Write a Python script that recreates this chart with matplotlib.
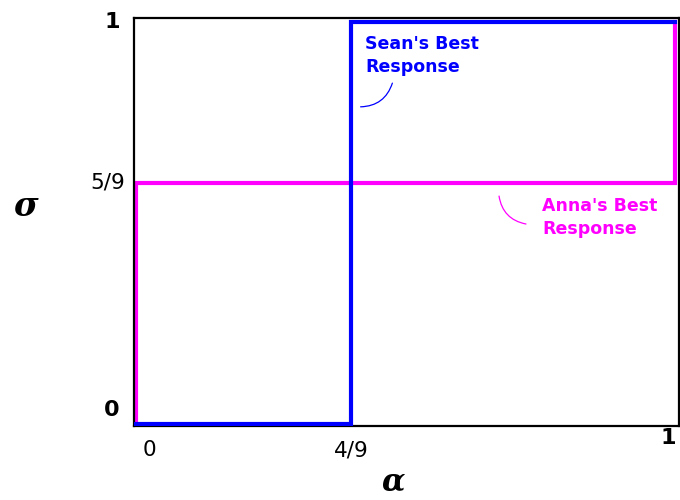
import matplotlib
matplotlib.use("Agg")
import matplotlib.pyplot as plt

# best response paths (positions as drawn in the picture: 4/9 ~ 0.4, 5/9 ~ 0.6)
sean_alpha = [0, 0.4, 0.4, 1]
sean_sigma = [0, 0, 1, 1]
anna_alpha = [0, 0, 1, 1]
anna_sigma = [0, 0.6, 0.6, 1]

BLUE = '#0000ff'
MAGENTA = '#ff00ff'

fig = plt.figure(figsize=(6.8, 5.0), dpi=100)
ax = fig.add_axes([0.197, 0.148, 0.801, 0.816])

ax.plot(sean_alpha, sean_sigma, color=BLUE, lw=3, solid_joinstyle='miter', zorder=3)
ax.plot(anna_alpha, anna_sigma, color=MAGENTA, lw=3, solid_joinstyle='miter', zorder=2)

ax.set_xlim(-0.0037, 1.0074)
ax.set_ylim(-0.005, 1.01)
ax.set_xticks([])
ax.set_yticks([])
for sp in ax.spines.values():
    sp.set_linewidth(1.6)
    sp.set_color('black')

# tick labels, placed by hand like the original
ax.text(-0.03, 1.0, '1', ha='right', va='center', fontsize=16, fontweight='bold')
ax.text(-0.02, 0.6, '5/9', ha='right', va='center', fontsize=15.5)
ax.text(-0.03, 0.035, '0', ha='right', va='center', fontsize=16, fontweight='bold')
ax.text(0.025, -0.04, '0', ha='center', va='top', fontsize=15.5)
ax.text(0.4, -0.04, '4/9', ha='center', va='top', fontsize=15.5)
ax.text(0.988, -0.01, '1', ha='center', va='top', fontsize=16, fontweight='bold')

# axis symbols
fig.text(0.038, 0.588, 'σ', ha='center', va='center', fontsize=24,
         family='DejaVu Serif', fontweight='bold', style='italic')
fig.text(0.578, 0.036, 'α', ha='center', va='center', fontsize=22,
         family='DejaVu Serif', fontweight='bold', style='italic')

# labels with thin leader curves
ax.text(0.426, 0.967, "Sean's Best\nResponse", ha='left', va='top', color=BLUE,
        fontsize=12.5, fontweight='bold', linespacing=1.35)
ax.annotate('', xy=(0.417, 0.789), xytext=(0.476, 0.848),
            arrowprops=dict(arrowstyle='-', color=BLUE, lw=0.9,
                            connectionstyle='arc3,rad=-0.35', shrinkA=0, shrinkB=0))

ax.text(0.754, 0.565, "Anna's Best\nResponse", ha='left', va='top', color=MAGENTA,
        fontsize=12.5, fontweight='bold', linespacing=1.35)
ax.annotate('', xy=(0.724, 0.4975), xytext=(0.674, 0.567),
            arrowprops=dict(arrowstyle='-', color=MAGENTA, lw=0.9,
                            connectionstyle='arc3,rad=0.35', shrinkA=0, shrinkB=0))

plt.savefig('out.png', dpi=100)
plt.close()
